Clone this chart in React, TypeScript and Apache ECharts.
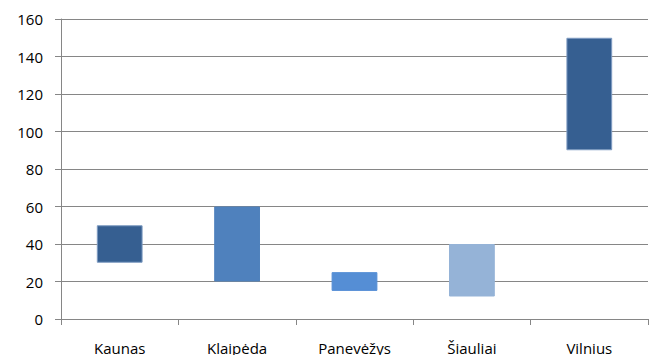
import React, { useEffect, useRef } from "react";
import * as echarts from "echarts";

// Cities and each one's floating range (low → high)
const categories = ["Kaunas", "Klaipėda", "Panevėžys", "Šiauliai", "Vilnius"];
const lowValues = [30, 20, 15, 12, 90];
const highValues = [50, 60, 25, 40, 150];
const barColors = ["#365F91", "#4F81BD", "#558ED5", "#95B3D7", "#365F91"];
const borderColors = ["#7F9CC2", "#4F81BD", "#558ED5", "#95B3D7", "#7F9CC2"];

const FONT = "'Open Sans', 'Liberation Sans', sans-serif";

export default function App() {
  const ref = useRef<HTMLDivElement>(null);

  useEffect(() => {
    if (!ref.current) return;
    const chart = echarts.init(ref.current, undefined, { renderer: "svg" });
    chart.setOption({
      animation: false,
      grid: { left: 61, right: 6, top: 19, bottom: 35 },
      xAxis: {
        type: "category",
        data: categories,
        axisLine: { show: true, lineStyle: { color: "#868686", width: 1 } },
        axisTick: { show: true, length: 6, lineStyle: { color: "#868686" } },
        axisLabel: { color: "#000", fontFamily: FONT, fontSize: 15, margin: 21 },
        splitLine: { show: false },
      },
      yAxis: {
        type: "value",
        min: 0,
        max: 160,
        interval: 20,
        axisLine: { show: true, lineStyle: { color: "#868686", width: 1 } },
        axisTick: { show: true, length: 6, lineStyle: { color: "#868686" } },
        axisLabel: { color: "#000", fontFamily: FONT, fontSize: 15, margin: 18 },
        splitLine: { show: true, lineStyle: { color: "#868686", width: 1 } },
      },
      series: [
        {
          type: "bar",
          stack: "range",
          silent: true,
          barWidth: "39%",
          itemStyle: { color: "transparent" },
          data: lowValues,
        },
        {
          type: "bar",
          stack: "range",
          barWidth: "39%",
          data: highValues.map((h, i) => ({
            value: h - lowValues[i],
            itemStyle: {
              color: barColors[i],
              borderColor: borderColors[i],
              borderWidth: 1,
            },
          })),
        },
      ],
    });
    return () => chart.dispose();
  }, []);

  return (
    <div
      ref={ref}
      style={{ position: "fixed", left: 0, top: 0, width: 654, height: 355, background: "#fff" }}
    />
  );
}
